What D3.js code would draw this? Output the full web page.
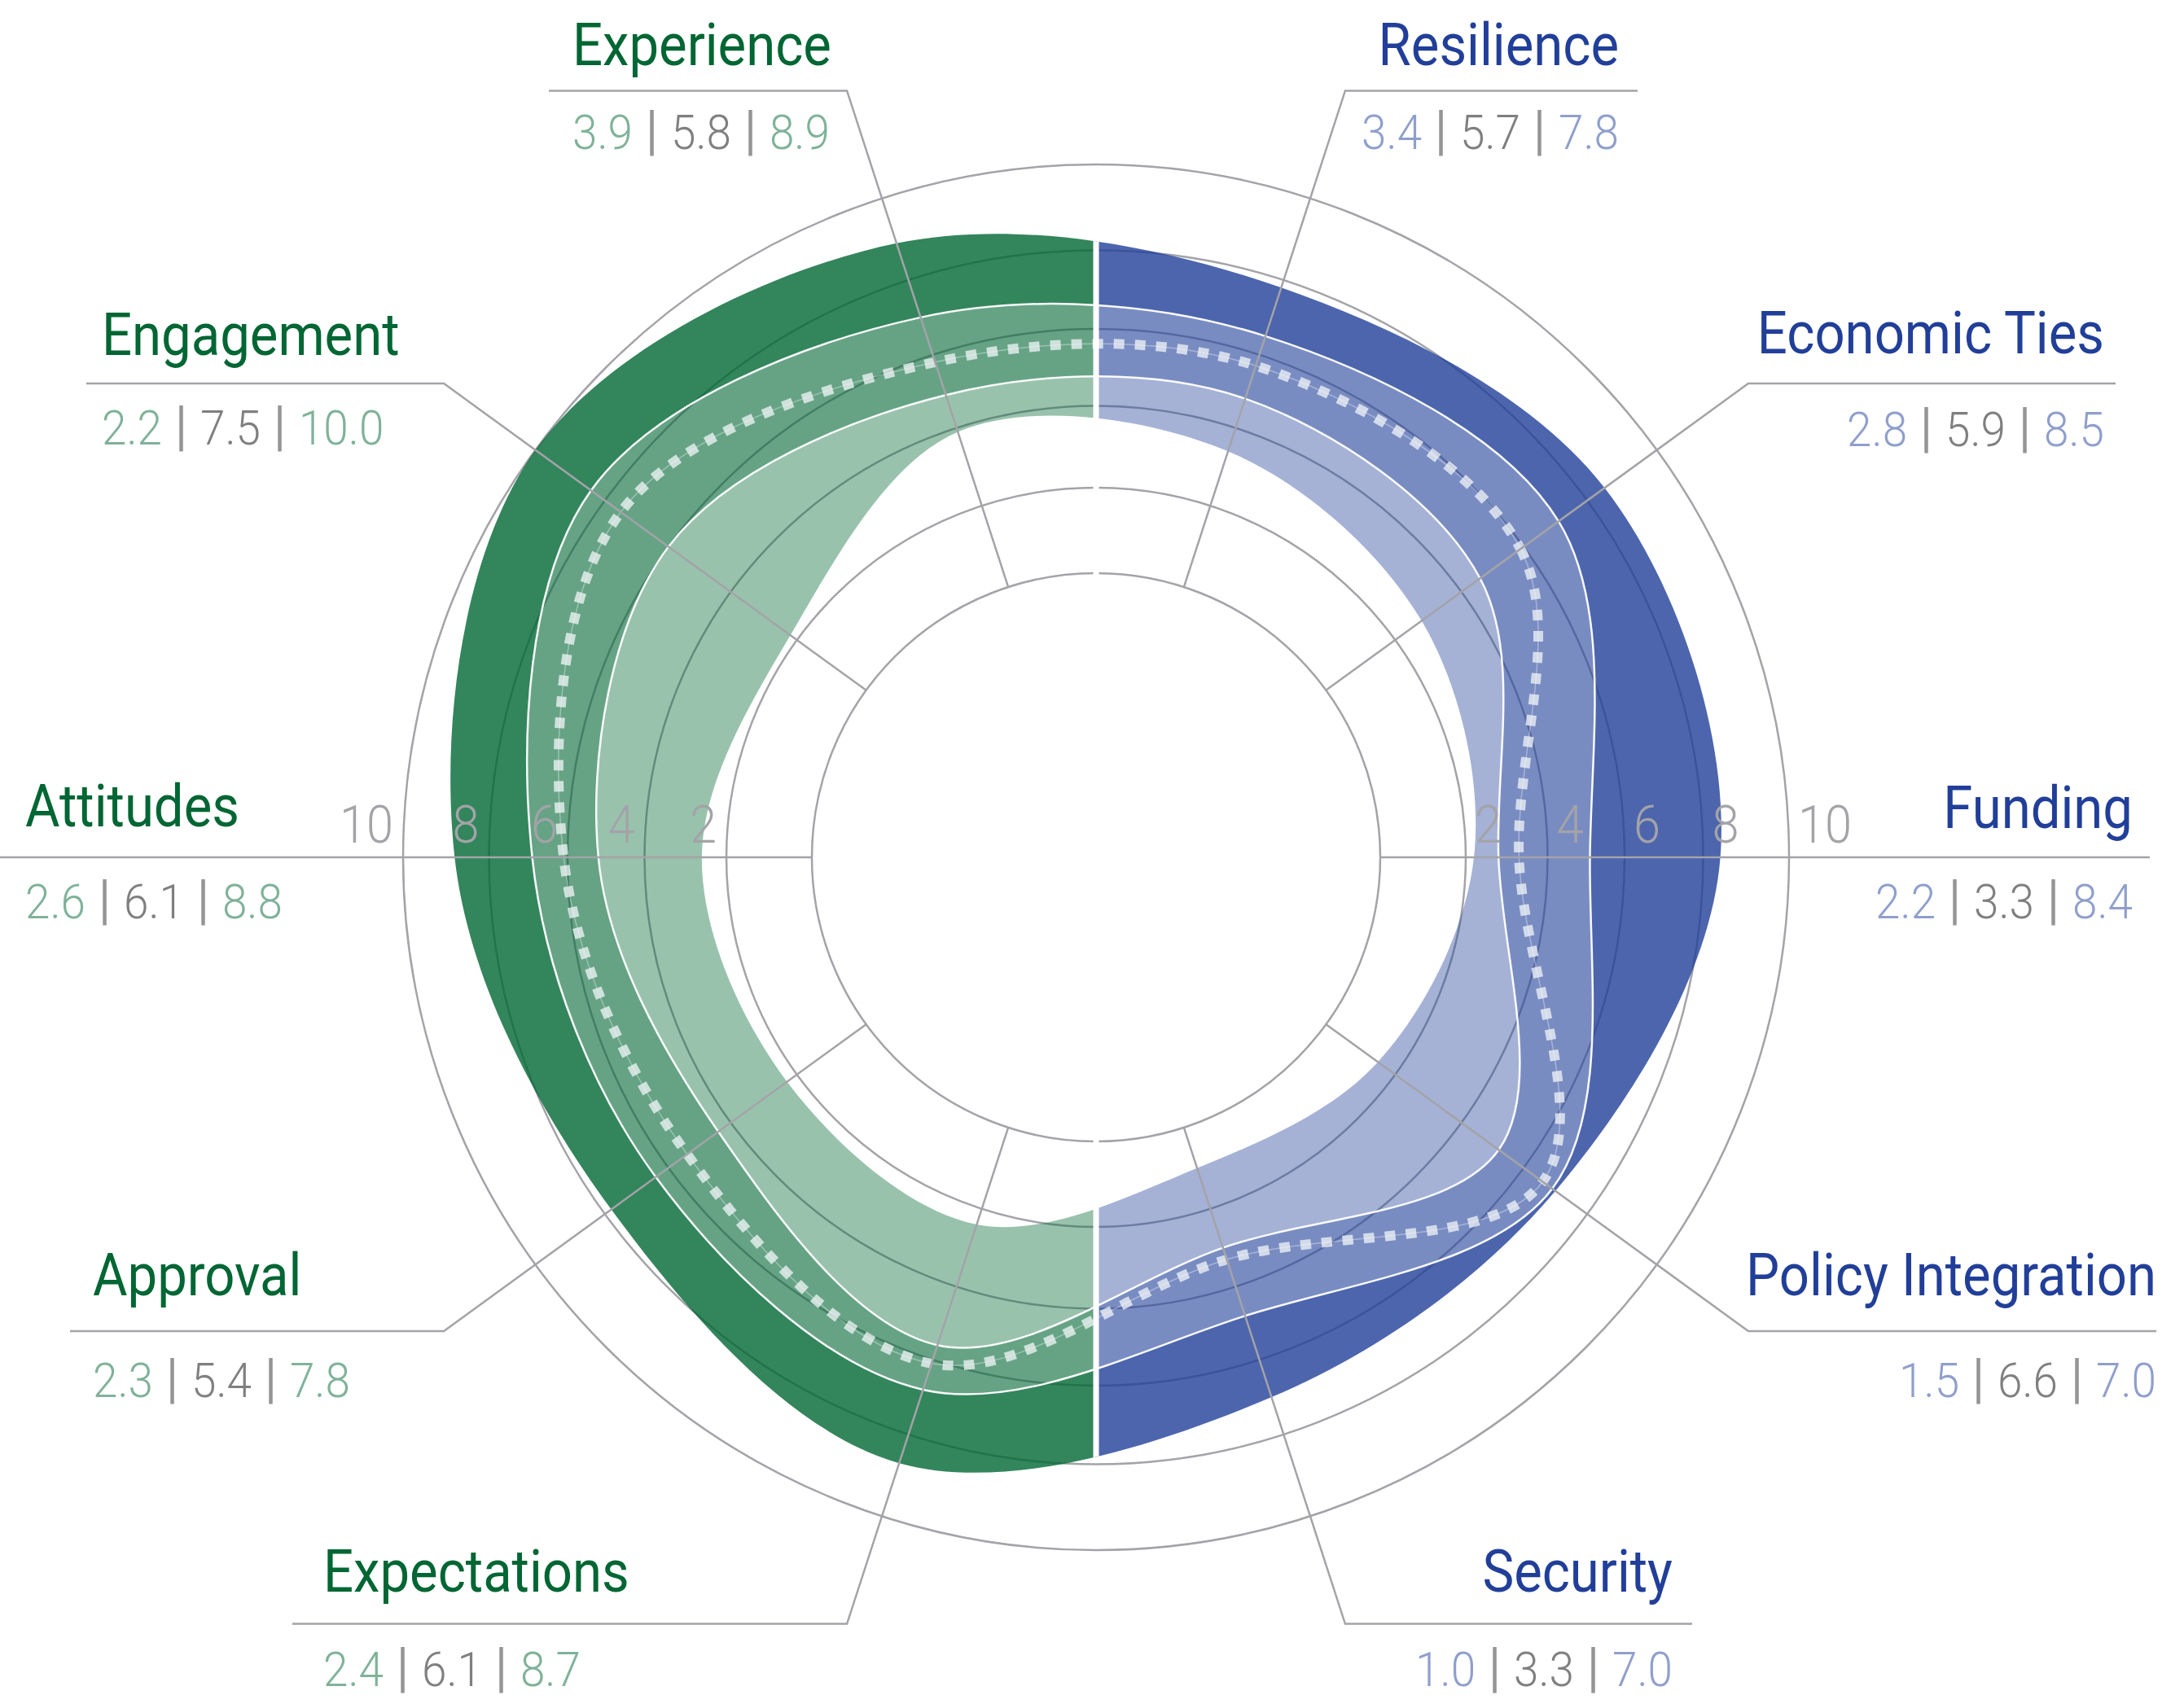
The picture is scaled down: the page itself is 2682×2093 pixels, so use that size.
<!DOCTYPE html>
<html><head><meta charset="utf-8">
<script src="https://cdn.jsdelivr.net/npm/d3@7"></script>
<style>html,body{margin:0;padding:0;background:#fff;} svg{display:block;}</style>
</head><body><svg id="chart" width="2682" height="2093"></svg>
<script>
// ---------------- DATA ----------------
const categories   = ["Resilience","Economic Ties","Funding","Policy Integration","Security","Expectations","Approval","Attitudes","Engagement","Experience"];
const minValues    = [3.4, 2.8, 2.2, 1.5, 1.0, 2.4, 2.3, 2.6, 2.2, 3.9];
const q1Values     = [4.8, 4.6, 2.8, 5.2, 3.0, 5.6, 4.4, 5.2, 6.0, 4.9];
const medianValues = [5.7, 5.9, 3.3, 6.6, 3.3, 6.1, 5.4, 6.1, 7.5, 5.8];
const q3Values     = [6.5, 7.1, 5.1, 6.9, 4.8, 6.8, 6.4, 6.9, 8.4, 7.0];
const maxValues    = [7.8, 8.5, 8.4, 7.0, 7.0, 8.7, 7.8, 8.8, 10.0, 8.9];
const gridValues   = [0, 2, 4, 6, 8, 10];
const tickLabels   = ["2", "4", "6", "8", "10"];

// ---------------- LAYOUT ----------------
const W = 2682, H = 2093, cx = 1346, cy = 1053;
const radiusRange = [349, 454, 554.5, 649, 745.5, 851];
const leaderRadius = 990;
const labelLayout = [
  {anchor:"end",   x:1988, titleY:80,   valuesY:183,  lineEndX:2011},
  {anchor:"end",   x:2584, titleY:434,  valuesY:548,  lineEndX:2598},
  {anchor:"end",   x:2619, titleY:1017, valuesY:1128, lineEndX:2640},
  {anchor:"end",   x:2648, titleY:1591, valuesY:1716, lineEndX:2648},
  {anchor:"end",   x:2054, titleY:1955, valuesY:2071, lineEndX:2078},
  {anchor:"start", x:397,  titleY:1955, valuesY:2071, lineEndX:359},
  {anchor:"start", x:114,  titleY:1591, valuesY:1716, lineEndX:86},
  {anchor:"start", x:31,   titleY:1015, valuesY:1128, lineEndX:0},
  {anchor:"start", x:125,  titleY:436,  valuesY:546,  lineEndX:106},
  {anchor:"start", x:703,  titleY:80,   valuesY:183,  lineEndX:674}
];
const FONT = "Roboto, 'Open Sans', 'Liberation Sans', sans-serif";
const GRID = "#a3a3a8";
const palette = {
  green: {base:"#006633", title:"#006633", light:"#7fb299"},
  blue:  {base:"#1f3f99", title:"#213f99", light:"#8f9fcc"}
};

const n = categories.length;
const angle = i => (i + 0.5) * 2 * Math.PI / n;
const r = d3.scaleLinear().domain(gridValues).range(radiusRange);
const side = i => Math.sin(angle(i)) > 0 ? "blue" : "green";

const svg = d3.select("#chart");
const defs = svg.append("defs");
const root = svg.append("g");
const plot = root.append("g").attr("transform", `translate(${cx},${cy})`);

const rows = categories.map((c, i) => ({
  name: c, min: minValues[i], q1: q1Values[i], med: medianValues[i], q3: q3Values[i], max: maxValues[i]
}));

// clip paths for halves
defs.append("clipPath").attr("id", "clipLeft").append("rect")
  .attr("x", -cx).attr("y", -cy).attr("width", cx).attr("height", H);
defs.append("clipPath").attr("id", "clipRight").append("rect")
  .attr("x", 0).attr("y", -cy).attr("width", W - cx).attr("height", H);

// ---------------- GRID ----------------
plot.append("g").selectAll("circle").data(gridValues).join("circle")
  .attr("r", d => r(d)).attr("fill", "none").attr("stroke", GRID).attr("stroke-width", 2.5);

const pol = (rad, a) => [rad * Math.sin(a), -rad * Math.cos(a)];
root.append("g").selectAll("path").data(rows).join("path")
  .attr("fill", "none").attr("stroke", GRID).attr("stroke-width", 2.5)
  .attr("d", (d, i) => {
    const a = angle(i);
    const p0 = pol(r(0), a), p1 = pol(leaderRadius, a);
    const ex = labelLayout[i].lineEndX;
    return `M${cx + p0[0]},${cy + p0[1]}L${cx + p1[0]},${cy + p1[1]}L${ex},${cy + p1[1]}`;
  });

function measure(str, size, weight) {
  const t = svg.append("text").attr("font-family", FONT).attr("font-size", size)
    .attr("font-weight", weight).text(str);
  const w = t.node().getComputedTextLength(); t.remove(); return w;
}
const kTitle = 318 / measure("Experience", 73, 400);
const kNum = 74 / measure("3.9", 59, 300);

function ctext(parent, x, y, k) {
  return parent.append("g").attr("transform", `translate(${x},${y}) scale(${k},1)`).append("text");
}

// tick labels (under the bands)
const tickG = root.append("g");
tickLabels.forEach((lab, j) => {
  const v = gridValues[j + 1];
  ctext(tickG, cx - r(v) - 12, cy - 18, kNum)
    .attr("text-anchor", "end").attr("font-family", FONT).attr("font-size", 64)
    .attr("font-weight", 300).attr("fill", GRID).text(lab);
  ctext(tickG, cx + r(v) + 11, cy - 18, kNum)
    .attr("text-anchor", "start").attr("font-family", FONT).attr("font-size", 64)
    .attr("font-weight", 300).attr("fill", GRID).text(lab);
});

// ---------------- BANDS ----------------
const curve = d3.curveCatmullRomClosed;
const band = (lo, hi) => d3.areaRadial()
  .angle((d, i) => angle(i))
  .innerRadius(d => r(d[lo])).outerRadius(d => r(d[hi])).curve(curve);
const line = key => d3.lineRadial().angle((d, i) => angle(i)).radius(d => r(d[key])).curve(curve);

const layers = [
  {lo:"min", hi:"q1", op:0.4},
  {lo:"q1",  hi:"q3", op:0.6},
  {lo:"q3",  hi:"max", op:0.8}
];
[["green","clipLeft"],["blue","clipRight"]].forEach(([s, clip]) => {
  const g = plot.append("g").attr("clip-path", `url(#${clip})`);
  layers.forEach(L => {
    g.append("path").attr("d", band(L.lo, L.hi)(rows)).attr("fill", palette[s].base)
      .attr("fill-opacity", L.op).attr("fill-rule", "evenodd");
  });
});

["q1", "q3"].forEach(k => {
  plot.append("path").attr("d", line(k)(rows)).attr("fill", "none")
    .attr("stroke", "#fff").attr("stroke-width", 2.5).attr("stroke-opacity", 0.95);
});

plot.append("path").attr("d", line("med")(rows)).attr("fill", "none")
  .attr("stroke", "#fff").attr("stroke-opacity", 0.35).attr("stroke-width", 1.5);
plot.append("path").attr("d", line("med")(rows)).attr("fill", "none")
  .attr("stroke", "#f2f5f8").attr("stroke-opacity", 0.75).attr("stroke-width", 12)
  .attr("stroke-dasharray", "13 13");

defs.append("clipPath").attr("id", "clipOuter").append("path").attr("d", line("max")(rows));
plot.append("line").attr("clip-path", "url(#clipOuter)")
  .attr("x1", 0).attr("x2", 0).attr("y1", -cy).attr("y2", H - cy)
  .attr("stroke", "#fff").attr("stroke-width", 7);

// ---------------- LABELS ----------------
const labG = root.append("g");
rows.forEach((d, i) => {
  const L = labelLayout[i], col = palette[side(i)];
  ctext(labG, L.x, L.titleY, kTitle)
    .attr("text-anchor", L.anchor).attr("font-family", FONT).attr("font-size", 73)
    .attr("font-weight", 400).attr("fill", col.title).text(d.name);
  const t = ctext(labG, L.x, L.valuesY, kNum)
    .attr("text-anchor", L.anchor).attr("font-family", FONT).attr("font-size", 59)
    .attr("font-weight", 300);
  const gap = 16 / kNum;
  const bar = () => t.append("tspan").attr("dx", gap).attr("fill", "#959595")
    .attr("font-size", 66).attr("font-weight", 400).text("|");
  t.append("tspan").attr("fill", col.light).text(d.min.toFixed(1));
  bar();
  t.append("tspan").attr("dx", gap).attr("fill", "#7f7f7f").text(d.med.toFixed(1));
  bar();
  t.append("tspan").attr("dx", gap).attr("fill", col.light).text(d.max.toFixed(1));
});
</script>
</body></html>
